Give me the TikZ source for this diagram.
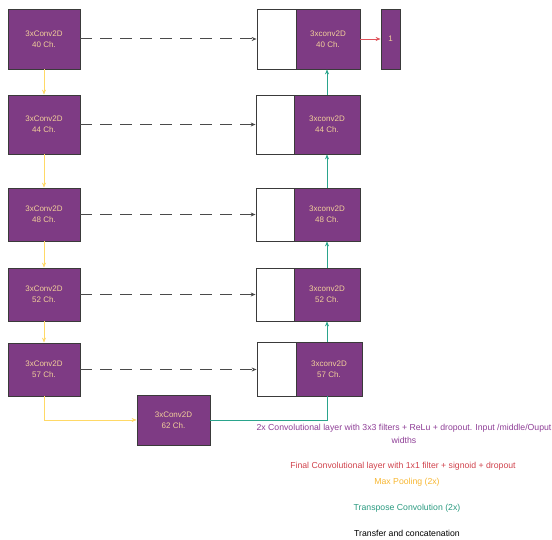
\documentclass[tikz,border=0pt]{standalone}
\usepackage{fontspec}
\setmainfont{Liberation Sans}
\usetikzlibrary{arrows.meta}
\definecolor{boxpur}{HTML}{7E3B84}
\definecolor{boxtxt}{HTML}{F2CF9A}
\definecolor{boxedge}{HTML}{3A3A3A}
\definecolor{poolc}{HTML}{FFD966}
\definecolor{upc}{HTML}{2AA48C}
\definecolor{finc}{HTML}{E0525A}
\definecolor{legpur}{HTML}{8E3E96}
\definecolor{legred}{HTML}{D0424C}
\definecolor{legylw}{HTML}{F7B733}
\definecolor{legteal}{HTML}{2A9A80}
\definecolor{dashc}{HTML}{4A4A4A}
\tikzset{
  convbox/.style={draw=boxedge, fill=boxpur, text=boxtxt, line width=0.8pt,
    font=\fontsize{8}{11}\selectfont, align=center, inner sep=0pt},
  catbox/.style={draw=boxedge, fill=white, line width=0.8pt, inner sep=0pt},
  poolarrow/.style={draw=poolc, line width=0.6pt, -{Stealth[length=5pt,width=4pt]}},
  uparrow/.style={draw=upc, line width=0.7pt, -{Stealth[length=5pt,width=4pt]}},
  upline/.style={draw=upc, line width=0.7pt},
  finarrow/.style={draw=finc, line width=0.7pt, -{Stealth[length=5pt,width=4pt]}},
  skiparrow/.style={draw=dashc, line width=1pt, dash pattern=on 12pt off 8pt, -{Stealth[length=5pt,width=4pt]}},
  legend/.style={font=\fontsize{8.7}{13}\selectfont, align=center, inner sep=0pt}
}
\begin{document}
\begin{tikzpicture}[x=1pt, y=-1pt]
\useasboundingbox (0,0) rectangle (552,540);
% encoder
\node[convbox, minimum width=72pt, minimum height=60pt] (l1) at (44,39) {3xConv2D\\40 Ch.};
\node[convbox, minimum width=72pt, minimum height=59pt] (l2) at (44,124.5) {3xConv2D\\44 Ch.};
\node[convbox, minimum width=72pt, minimum height=53pt] (l3) at (44,214.5) {3xConv2D\\48 Ch.};
\node[convbox, minimum width=72pt, minimum height=53pt] (l4) at (44,294.5) {3xConv2D\\52 Ch.};
\node[convbox, minimum width=72pt, minimum height=53pt] (l5) at (44,369.5) {3xConv2D\\57 Ch.};
\node[convbox, minimum width=73pt, minimum height=50pt] (b) at (173.5,420) {3xConv2D\\62 Ch.};
% decoder
\node[catbox, minimum width=39pt, minimum height=60pt] (r1w) at (276.5,39) {};
\node[convbox, minimum width=64pt, minimum height=60pt] (r1p) at (328,39) {3xconv2D\\40 Ch.};
\node[catbox, minimum width=38pt, minimum height=59pt] (r2w) at (275,124.5) {};
\node[convbox, minimum width=66pt, minimum height=59pt] (r2p) at (327,124.5) {3xconv2D\\44 Ch.};
\node[catbox, minimum width=38pt, minimum height=53pt] (r3w) at (275,214.5) {};
\node[convbox, minimum width=66pt, minimum height=53pt] (r3p) at (327,214.5) {3xconv2D\\48 Ch.};
\node[catbox, minimum width=38pt, minimum height=53pt] (r4w) at (275,294.5) {};
\node[convbox, minimum width=66pt, minimum height=53pt] (r4p) at (327,294.5) {3xconv2D\\52 Ch.};
\node[catbox, minimum width=39pt, minimum height=54pt] (r5w) at (276.5,369) {};
\node[convbox, minimum width=66pt, minimum height=54pt] (r5p) at (329,369) {3xconv2D\\57 Ch.};
\node[convbox, minimum width=19pt, minimum height=60pt] (out) at (390.5,39) {1};
% max pooling
\draw[poolarrow] (l1.south) -- (l2.north);
\draw[poolarrow] (l2.south) -- (l3.north);
\draw[poolarrow] (l3.south) -- (l4.north);
\draw[poolarrow] (l4.south) -- (l5.north);
\draw[poolarrow] (l5.south) |- (b.west);
% transfer
\draw[skiparrow] (l1.east) -- (r1w.west);
\draw[skiparrow] (l2.east) -- (r2w.west);
\draw[skiparrow] (l3.east) -- (r3w.west);
\draw[skiparrow] (l4.east) -- (r4w.west);
\draw[skiparrow] (l5.east) -- (r5w.west |- l5.east);
% up convolution
\coordinate (u5) at (327,396);
\draw[upline] (b.east) -| (u5);
\draw[uparrow] (327,342) -- (r4p.south);
\draw[uparrow] (r4p.north) -- (r3p.south);
\draw[uparrow] (r3p.north) -- (r2p.south);
\draw[uparrow] (r2p.north) -- (r2p.north |- r1p.south);
% final
\draw[finarrow] (r1p.east) -- (out.west);
% legend
\node[legend, text=legpur] (t1) at (404,434) {2x Convolutional layer with 3x3 filters + ReLu + dropout. Input /middle/Ouput\\widths};
\node[legend, text=legred] (t2) at (403,466) {Final Convolutional layer with 1x1 filter + signoid + dropout};
\node[legend, text=legylw] (t3) at (407,482) {Max Pooling (2x)};
\node[legend, text=legteal] (t4) at (407,508) {Transpose Convolution (2x)};
\node[legend, text=black] (t5) at (407,533) {Transfer and concatenation};
\end{tikzpicture}
\end{document}
